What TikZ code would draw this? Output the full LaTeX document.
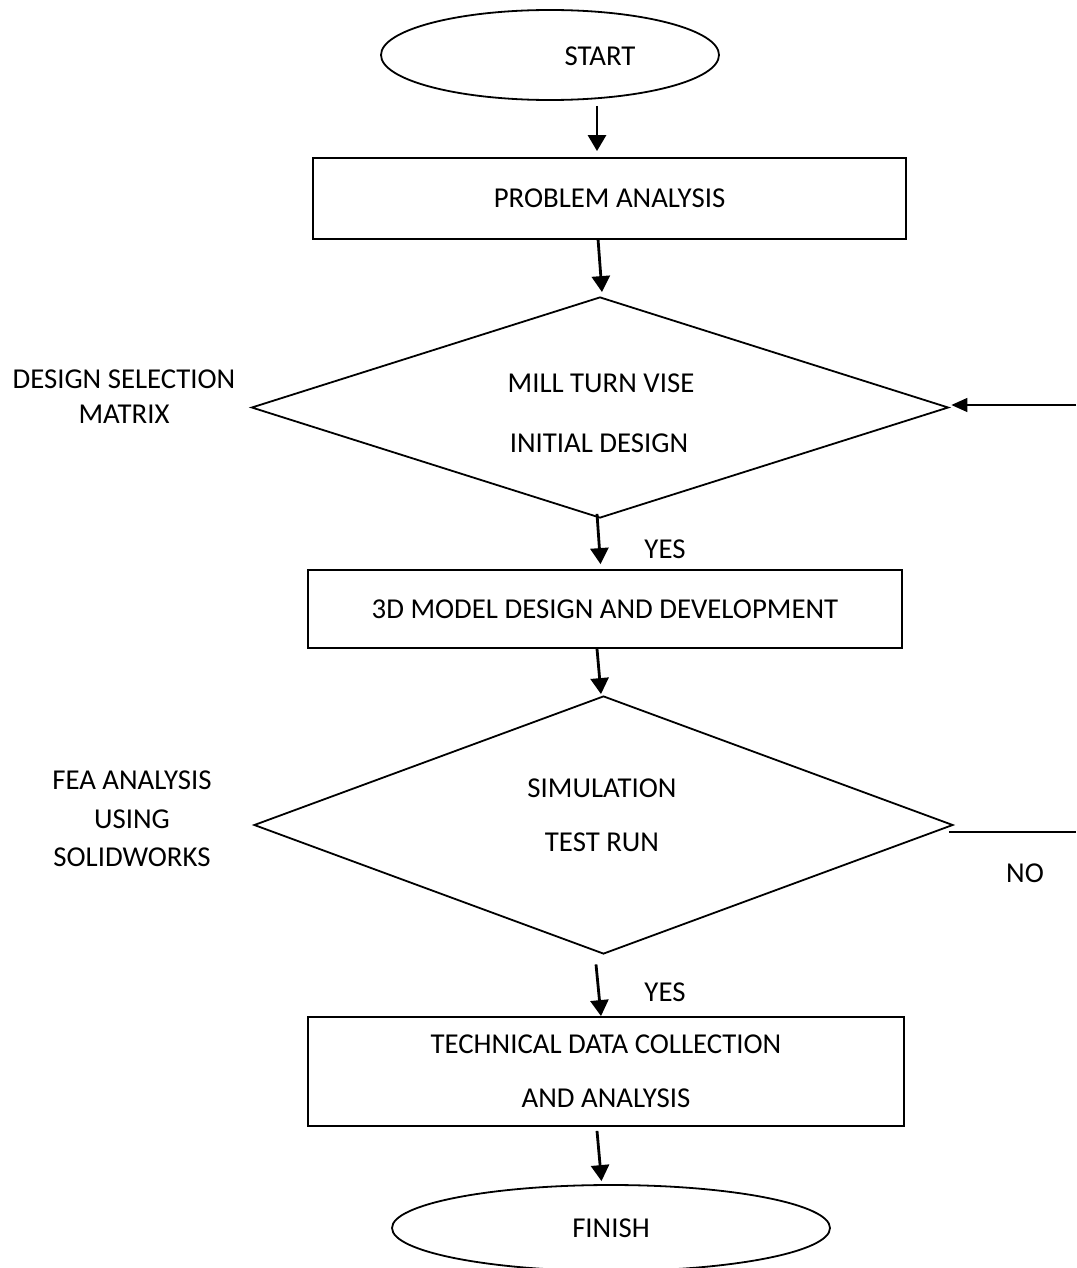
\documentclass[tikz,border=0pt]{standalone}
\usepackage{fontspec}
\setmainfont{Carlito}
\usetikzlibrary{shapes.geometric,arrows.meta,calc}
\begin{document}
\begin{tikzpicture}[x=0.5pt,y=-0.5pt,
  every node/.style={font=\fontsize{14.4}{17.3}\selectfont},
  terminal/.style={draw, ellipse, line width=0.9pt, inner sep=0pt},
  process/.style={draw, rectangle, line width=0.9pt, inner sep=0pt, align=center},
  decision/.style={draw, diamond, line width=0.9pt, inner sep=0pt},
  txt/.style={inner sep=0pt, align=center},
  flow/.style={line width=1.4pt, -{Triangle[length=8pt,width=9pt]}},
  feedback/.style={line width=0.7pt, -{Triangle[length=8pt,width=7pt]}},
  plainline/.style={line width=0.8pt}]
\clip (0,0) rectangle (1076,1268);

% terminals, process boxes and decisions
\node[terminal, minimum width=169pt, minimum height=45pt] (start) at (550,55) {};
\node[txt] (startlbl) at (600,56) {START};
\node[process, minimum width=296.5pt, minimum height=40.5pt] (pa) at (609.5,198.5) {PROBLEM ANALYSIS};
\node[decision, minimum width=348.5pt, minimum height=110.5pt] (d1) at (600,407.5) {};
\node[txt] (d1a) at (601,383) {MILL TURN VISE};
\node[txt] (d1b) at (599,443) {INITIAL DESIGN};
\node[process, minimum width=297pt, minimum height=39pt] (model) at (605,609) {3D MODEL DESIGN AND DEVELOPMENT};
\node[decision, minimum width=349.5pt, minimum height=129pt] (d2) at (603.5,825) {};
\node[txt] (d2a) at (602,788) {SIMULATION};
\node[txt] (d2b) at (602,842) {TEST RUN};
\node[process, minimum width=298pt, minimum height=54.5pt] (data) at (606,1071.5) {TECHNICAL DATA COLLECTION\\[9.7pt]AND ANALYSIS};
\node[terminal, minimum width=219pt, minimum height=43pt] (finish) at (611,1228) {FINISH};

% side notes and branch labels
\node[txt] (dsm) at (124,396.5) {DESIGN SELECTION\\MATRIX};
\node[txt] (fea) at (132,819) {FEA ANALYSIS\\[2pt]USING\\[2pt]SOLIDWORKS};
\node[txt] (yes1) at (665,549) {YES};
\node[txt] (yes2) at (665,992) {YES};
\node[txt] (no) at (1025,873) {NO};

% free ends at the right margin
\coordinate (fbin) at (1076,405);
\coordinate (noend) at (1076,832);

% main flow
\draw[flow] ($(start.south)+(47,5)$) -- ($(pa.north)+(-12.5,-6)$);
\draw[flow] ($(pa.south)+(-11.5,-1)$) -- ($(d1.north)+(2,-4)$);
\draw[flow] ($(d1.south)+(-3,-5)$) -- ($(model.north)+(-4.5,-5)$);
\draw[flow] ($(model.south)+(-8,0)$) -- ($(d2.north)+(-2.5,-1)$);
\draw[flow] ($(d2.south)+(-7.5,9.5)$) -- ($(data.north)+(-5,0)$);
\draw[flow] ($(data.south)+(-9,4)$) -- ($(finish.north)+(-9.5,-3)$);

% loop back lines
\draw[feedback] (fbin) -- ($(d1.east)+(2,-2.5)$);
\draw[plainline] ($(d2.east)+(-5,7)$) -- (noend);
\end{tikzpicture}
\end{document}
